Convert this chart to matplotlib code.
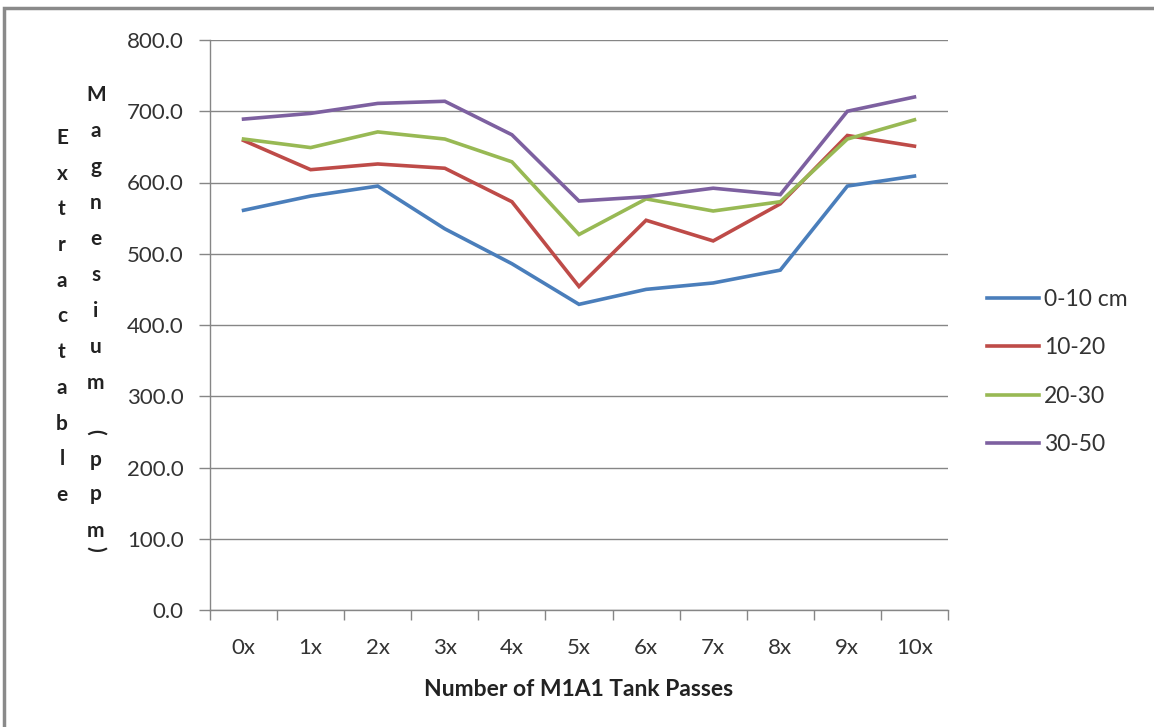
import matplotlib.pyplot as plt
from matplotlib.patches import Rectangle
import numpy as np

plt.rcParams['font.family'] = ['Lato', 'DejaVu Sans']

passes = ['0x', '1x', '2x', '3x', '4x', '5x', '6x', '7x', '8x', '9x', '10x']
depth_0_10 = [561, 581, 595, 535, 486, 429, 450, 459, 477, 595, 609]
depth_10_20 = [659, 618, 626, 620, 573, 454, 547, 518, 570, 666, 651]
depth_20_30 = [661, 649, 671, 661, 629, 527, 577, 560, 573, 661, 688]
depth_30_50 = [689, 697, 711, 714, 667, 574, 580, 592, 583, 700, 720]
series_labels = ['0-10 cm', '10-20', '20-30', '30-50']
colors = ['#4A7EBB', '#BE4B48', '#98B954', '#7D60A0']
y_ticks = [0, 100, 200, 300, 400, 500, 600, 700, 800]

fig = plt.figure(figsize=(11.54, 7.27), dpi=100)
ax = fig.add_axes([210 / 1154, 1 - 610 / 727, 738 / 1154, 570 / 727])

x = np.arange(len(passes))
for vals, lab, col in zip([depth_0_10, depth_10_20, depth_20_30, depth_30_50], series_labels, colors):
    ax.plot(x, vals, color=col, lw=2.6, label=lab, solid_joinstyle='miter')

ax.set_xlim(-0.5, len(passes) - 0.5)
ax.set_ylim(0, 800)
ax.set_yticks(y_ticks)
ax.set_yticklabels([f'{v:.1f}' for v in y_ticks])
ax.set_xticks(x)
ax.set_xticklabels(passes)
ax.set_xticks(np.arange(-0.5, len(passes)), minor=True)
ax.tick_params(axis='x', which='major', length=0, pad=20, labelsize=16, labelcolor='#333333')
ax.tick_params(axis='x', which='minor', length=7, color='#868686', width=1)
ax.tick_params(axis='y', length=8, color='#868686', width=1, pad=11, labelsize=16, labelcolor='#333333')
ax.yaxis.grid(True, color='#868686', lw=1)
ax.set_axisbelow(True)
for s in ['top', 'right']:
    ax.spines[s].set_visible(False)
for s in ['left', 'bottom']:
    ax.spines[s].set_color('#868686')
    ax.spines[s].set_linewidth(1)

ax.set_xlabel('Number of M1A1 Tank Passes', fontsize=16.5, fontweight='bold', labelpad=15, color='#222222')

# stacked vertical y-axis title (Excel style)
word1 = 'Extractable'
for i, ch in enumerate(word1):
    fig.text(62 / 1154, 1 - (138 + i * 35.7) / 727, ch, ha='center', va='center',
             fontsize=15, fontweight='bold', color='#222222')
word2 = 'Magnesium'
for i, ch in enumerate(word2):
    fig.text(96 / 1154, 1 - (95 + i * 36) / 727, ch, ha='center', va='center',
             fontsize=15, fontweight='bold', color='#222222')
tail = [('(', 432, -90), ('p', 460, 0), ('p', 494, 0), ('m', 531, 0), (')', 549, -90)]
for ch, yy, rot in tail:
    fig.text(96 / 1154, 1 - yy / 727, ch, ha='center', va='center', rotation=rot,
             fontsize=15, fontweight='bold', color='#222222')

leg = ax.legend(loc='center left', bbox_to_anchor=(966 / 1154, 1 - 372 / 727),
                bbox_transform=fig.transFigure, frameon=False, fontsize=16.5,
                handlelength=2.3, handletextpad=0.2, labelspacing=1.18)
for t in leg.get_texts():
    t.set_color('#333333')

fig.patches.append(Rectangle((4 / 1154, -0.1), 1.2, 1 - 8 / 727 + 0.1, transform=fig.transFigure,
                             fill=False, edgecolor='#8a8a8a', lw=2.5))

fig.savefig('out.png', dpi=100)
